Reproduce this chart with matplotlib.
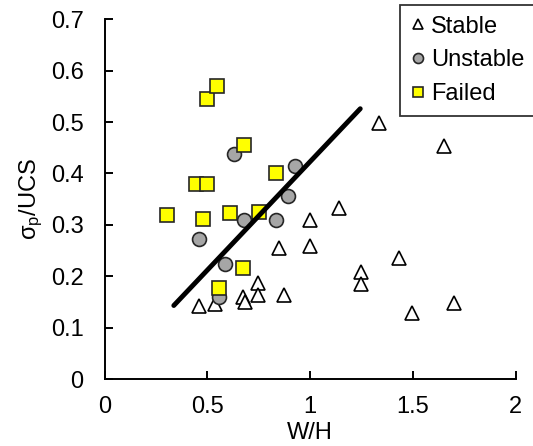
import matplotlib
matplotlib.use("Agg")
import matplotlib.pyplot as plt

plt.rcParams["font.family"] = ["Liberation Sans", "DejaVu Sans"]

# ---- data ----
stable_x = [1.333, 1.649, 1.141, 0.998, 0.998, 0.847, 1.434, 1.249, 1.249, 0.748,
            0.748, 0.873, 0.672, 0.682, 0.462, 0.536, 1.497, 1.699]
stable_y = [0.498, 0.453, 0.332, 0.309, 0.259, 0.254, 0.236, 0.209, 0.185, 0.186,
            0.164, 0.164, 0.160, 0.149, 0.143, 0.145, 0.129, 0.147]
unstable_x = [0.629, 0.926, 0.892, 0.680, 0.834, 0.462, 0.586, 0.557]
unstable_y = [0.437, 0.415, 0.356, 0.310, 0.310, 0.272, 0.224, 0.160]
failed_x = [0.304, 0.445, 0.500, 0.478, 0.500, 0.549, 0.678, 0.610, 0.751, 0.834, 0.675, 0.557]
failed_y = [0.320, 0.380, 0.380, 0.312, 0.544, 0.570, 0.456, 0.323, 0.325, 0.400, 0.216, 0.178]
trend_x = [0.337, 1.244]
trend_y = [0.143, 0.526]

fig = plt.figure(figsize=(5.33, 4.46), dpi=100)
ax = fig.add_axes([104.5 / 533, 67 / 446, 411.2 / 533, 359.7 / 446])

ax.plot(stable_x, stable_y, "^", ms=10, mfc="white", mec="black", mew=1.2,
        ls="none", label="Stable", zorder=3)
ax.plot(unstable_x, unstable_y, "o", ms=10, mfc="#A6A6A6", mec="#262626", mew=1.2,
        ls="none", label="Unstable", zorder=4)
ax.plot(failed_x, failed_y, "s", ms=10, mfc="#FFFF00", mec="#262626", mew=1.2,
        ls="none", label="Failed", zorder=5)
ax.plot(trend_x, trend_y, "k-", lw=3.5, solid_capstyle="round", zorder=6)

ax.set_xlim(0, 2)
ax.set_ylim(0, 0.7)
ax.set_xticks([0, 0.5, 1, 1.5, 2])
ax.set_xticklabels(["0", "0.5", "1", "1.5", "2"])
ax.set_yticks([0, 0.1, 0.2, 0.3, 0.4, 0.5, 0.6, 0.7])
ax.set_yticklabels(["0", "0.1", "0.2", "0.3", "0.4", "0.5", "0.6", "0.7"])
for s in ("top", "right"):
    ax.spines[s].set_visible(False)
for s in ("left", "bottom"):
    ax.spines[s].set_linewidth(1.4)
ax.tick_params(axis="both", direction="in", length=5.5, width=1.4, labelsize=17)
ax.tick_params(axis="x", pad=12)
ax.tick_params(axis="y", pad=15)
ax.set_xlabel("W/H", fontsize=17, labelpad=3)
ax.set_ylabel(r"$\mathregular{\sigma_p}$/UCS", fontsize=17, labelpad=4)

leg = ax.legend(loc="upper left", bbox_to_anchor=(400 / 533, 1 - 5 / 446),
                bbox_transform=fig.transFigure, fontsize=17, frameon=True,
                fancybox=False, handlelength=0.6, handletextpad=0.25,
                borderpad=0.45, labelspacing=0.5, markerscale=0.72, borderaxespad=0)
leg.get_frame().set_edgecolor("black")
leg.get_frame().set_linewidth(1.3)

fig.savefig("out.png", dpi=100)
